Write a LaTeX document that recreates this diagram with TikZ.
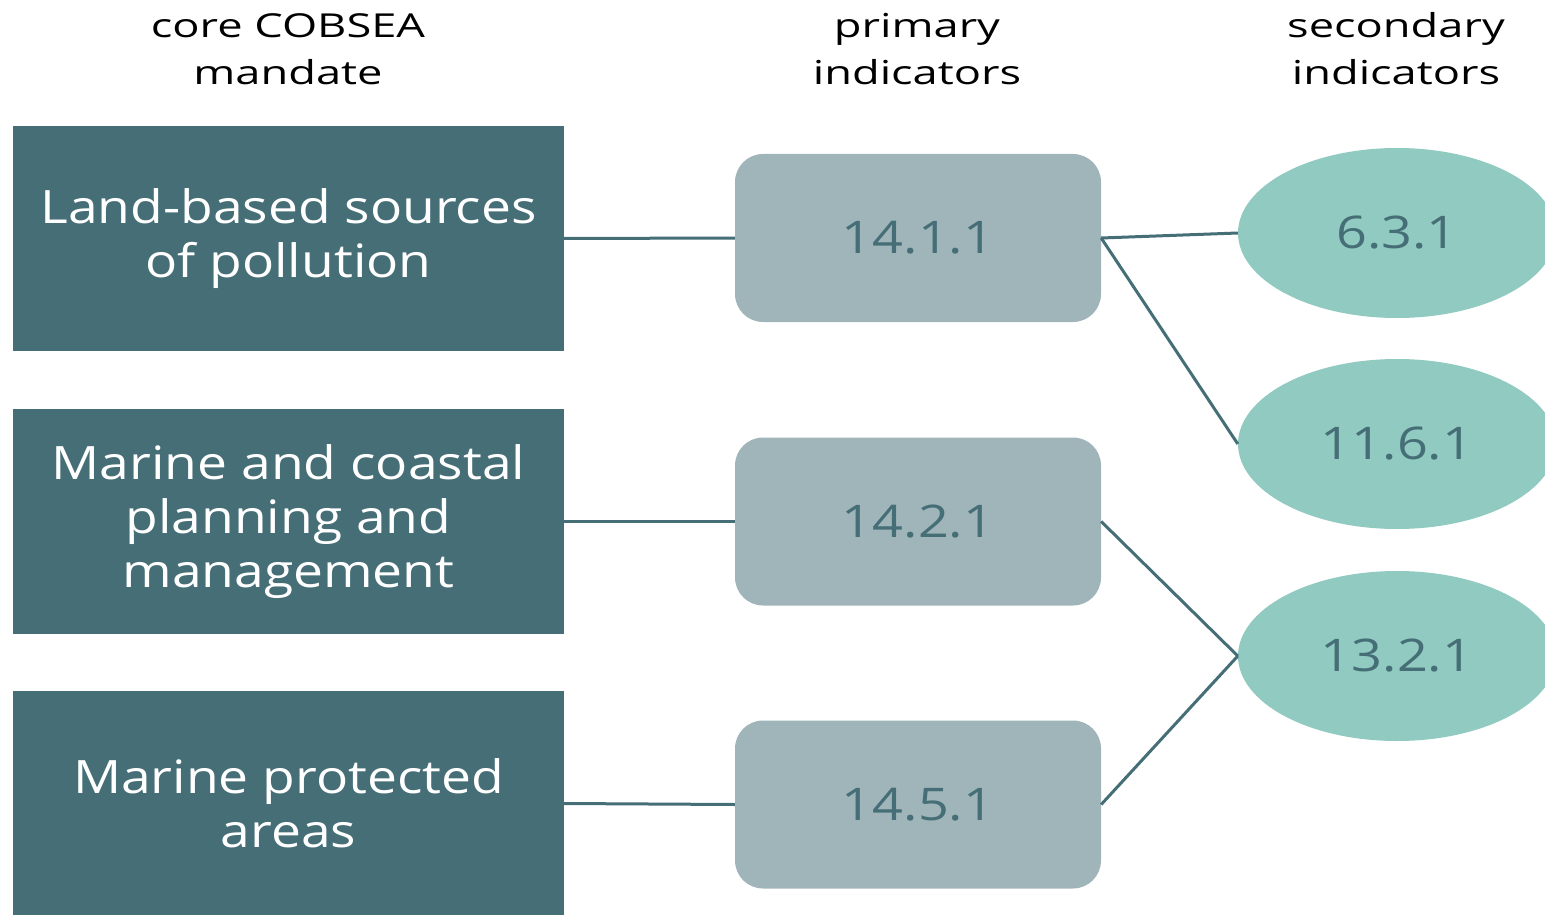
\documentclass[tikz,border=0pt]{standalone}
\usepackage{fontspec}
\setmainfont{Open Sans}
\newfontfamily\headfont{Open Sans}[FakeStretch=1.37]
\newfontfamily\corefont{Open Sans}[FakeStretch=1.16]
\newfontfamily\numfont{Open Sans}[FakeStretch=1.2]
\usetikzlibrary{shapes.geometric}
\definecolor{dteal}{HTML}{456E76}
\definecolor{gbox}{HTML}{A0B5B9}
\definecolor{mint}{HTML}{90CAC0}
\tikzset{
  x=1pt,y=-1pt,
  head/.style={align=center,font=\headfont\fontsize{33}{47}\selectfont,text=black,inner sep=0},
  core/.style={fill=dteal,draw=none,minimum width=551pt,minimum height=225pt,inner sep=0,align=center,text=white,font=\corefont\fontsize{46}{54}\selectfont},
  prim/.style={fill=gbox,draw=none,rounded corners=28pt,minimum width=366pt,minimum height=168pt,inner sep=0,text=dteal,font=\numfont\fontsize{45}{54}\selectfont},
  sec/.style={ellipse,fill=mint,draw=none,minimum width=318pt,minimum height=170pt,inner sep=0,text=dteal,font=\numfont\fontsize{45}{54}\selectfont},
  link/.style={draw=dteal,line width=3pt}
}
\begin{document}
\begin{tikzpicture}
\useasboundingbox (0,0) rectangle (1545,915);
\begin{scope}
\clip (0,0) rectangle (1545,915);
\node[head] (h1) at (288,49) {core COBSEA\\mandate};
\node[head] (h2) at (917,49) {primary\\indicators};
\node[head] (h3) at (1396,49) {secondary\\indicators};
\node[core] (c1) at (288.5,238.5) {Land-based sources\\of pollution};
\node[core] (c2) at (288.5,521.5) {Marine and coastal\\planning and\\management};
\node[core] (c3) at (288.5,803.5) {Marine protected\\areas};
\node[prim] (p1) at (918,238) {14.1.1};
\node[prim] (p2) at (918,521.5) {14.2.1};
\node[prim] (p3) at (918,804.5) {14.5.1};
\node[sec] (s1) at (1397,233) {6.3.1};
\node[sec] (s2) at (1397,444) {11.6.1};
\node[sec] (s3) at (1397,656) {13.2.1};
\draw[link] (c1.east) -- (p1.west);
\draw[link] (c2.east) -- (p2.west);
\draw[link] (c3.east) -- (p3.west);
\draw[link] (p1.east) -- (s1.west);
\draw[link] (p1.east) -- (s2.west);
\draw[link] (p2.east) -- (s3.west);
\draw[link] (p3.east) -- (s3.west);
\end{scope}
\end{tikzpicture}
\end{document}
